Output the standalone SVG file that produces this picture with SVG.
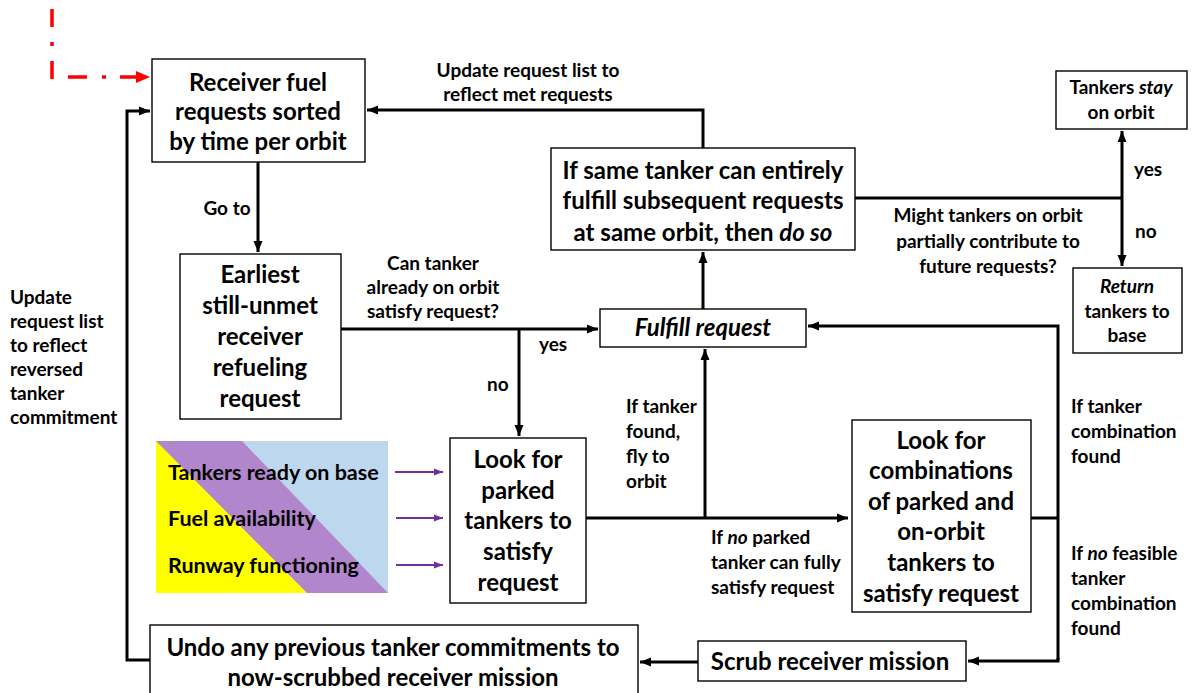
<svg xmlns="http://www.w3.org/2000/svg" width="1195" height="693" viewBox="0 0 1195 693">
  <style>
    .box { fill: #fff; stroke: #000; stroke-width: 1.4; }
    .t { font-family: Lato, "Liberation Sans", sans-serif; font-weight: bold; fill: #000; }
    .big { font-size: 24px; text-anchor: middle; }
    .lbl { font-size: 19px; }
    .mid { text-anchor: middle; }
    .con { fill: none; stroke: #000; stroke-width: 3; }
    .pur { fill: none; stroke: #7030A0; stroke-width: 2; }
  </style>
  <defs>
    <marker id="ah" markerUnits="userSpaceOnUse" markerWidth="12" markerHeight="12" refX="11" refY="6" orient="auto">
      <path d="M0,1.5 L11,6 L0,10.5 Z" fill="#000"/>
    </marker>
    <marker id="ahp" markerUnits="userSpaceOnUse" markerWidth="10" markerHeight="10" refX="9" refY="5" orient="auto">
      <path d="M0,1.5 L9,5 L0,8.5 Z" fill="#7030A0"/>
    </marker>
  </defs>

  <!-- entry path -->
  <g id="entry">
    <path d="M52,9 V79" fill="none" stroke="#FF0000" stroke-width="3.5" stroke-dasharray="18 15 4 15"/>
    <path d="M68,77 H138" fill="none" stroke="#FF0000" stroke-width="3.5" stroke-dasharray="19 15 4 14 18"/>
    <path d="M136,71 L150,77 L136,83 Z" fill="#FF0000"/>
  </g>

  <!-- connectors -->
  <g id="connectors">
    <path class="con" d="M258,162 V252" marker-end="url(#ah)"/>
    <path class="con" d="M341,329 H598" marker-end="url(#ah)"/>
    <path class="con" d="M519,329 V436" marker-end="url(#ah)"/>
    <path class="con" d="M586,518 H848" marker-end="url(#ah)"/>
    <path class="con" d="M705,518 V349" marker-end="url(#ah)"/>
    <path class="con" d="M703,309 V252" marker-end="url(#ah)"/>
    <path class="con" d="M703,148 V110 H367" marker-end="url(#ah)"/>
    <path class="con" d="M855,198 H1122"/>
    <path class="con" d="M1122,198 V131" marker-end="url(#ah)"/>
    <path class="con" d="M1122,198 V266" marker-end="url(#ah)"/>
    <path class="con" d="M1031,518 H1058"/>
    <path class="con" d="M1058,660 V326 H808" marker-end="url(#ah)"/>
    <path class="con" d="M1058,658 V661 H968" marker-end="url(#ah)"/>
    <path class="con" d="M698,662 H640" marker-end="url(#ah)"/>
    <path class="con" d="M150,660 H127 V111 H150" marker-end="url(#ah)"/>
    <path class="pur" d="M395,472 H443" marker-end="url(#ahp)"/>
    <path class="pur" d="M396,518 H443" marker-end="url(#ahp)"/>
    <path class="pur" d="M396,565 H443" marker-end="url(#ahp)"/>
  </g>

  <!-- connector labels -->
  <g id="labels" class="t lbl">
    <text class="mid" x="528" y="77">Update request list to</text>
    <text class="mid" x="528" y="101">reflect met requests</text>
    <text class="mid" x="227" y="215">Go to</text>
    <text class="mid" x="433" y="270">Can tanker</text>
    <text class="mid" x="433" y="294">already on orbit</text>
    <text class="mid" x="433" y="318">satisfy request?</text>
    <text x="539" y="351">yes</text>
    <text x="487" y="391">no</text>
    <text x="10" y="304">Update</text>
    <text x="10" y="328">request list</text>
    <text x="10" y="352">to reflect</text>
    <text x="10" y="376">reversed</text>
    <text x="10" y="400">tanker</text>
    <text x="10" y="424">commitment</text>
    <text x="626" y="413">If tanker</text>
    <text x="626" y="438">found,</text>
    <text x="626" y="463">fly to</text>
    <text x="626" y="488">orbit</text>
    <text x="711" y="544">If <tspan font-style="italic">no</tspan> parked</text>
    <text x="711" y="569">tanker can fully</text>
    <text x="711" y="594">satisfy request</text>
    <text x="1071" y="413">If tanker</text>
    <text x="1071" y="438">combination</text>
    <text x="1071" y="463">found</text>
    <text x="1071" y="560">If <tspan font-style="italic">no</tspan> feasible</text>
    <text x="1071" y="585">tanker</text>
    <text x="1071" y="610">combination</text>
    <text x="1071" y="635">found</text>
    <text class="mid" x="988" y="222">Might tankers on orbit</text>
    <text class="mid" x="988" y="248">partially contribute to</text>
    <text class="mid" x="988" y="273">future requests?</text>
    <text x="1134" y="176">yes</text>
    <text x="1135" y="238">no</text>
  </g>

  <g id="receiver-requests">
    <rect class="box" x="152" y="59" width="213" height="103"/>
    <text class="t big" x="258" y="91">Receiver fuel</text>
    <text class="t big" x="258" y="120">requests sorted</text>
    <text class="t big" x="258" y="150">by time per orbit</text>
  </g>

  <g id="earliest-request">
    <rect class="box" x="180" y="254" width="161" height="165"/>
    <text class="t big" x="260" y="283">Earliest</text>
    <text class="t big" x="260" y="314">still-unmet</text>
    <text class="t big" x="260" y="345">receiver</text>
    <text class="t big" x="260" y="376">refueling</text>
    <text class="t big" x="260" y="407">request</text>
  </g>

  <g id="same-tanker">
    <rect class="box" x="551" y="148" width="304" height="102"/>
    <text class="t big" x="703" y="179">If same tanker can entirely</text>
    <text class="t big" x="703" y="209">fulfill subsequent requests</text>
    <text class="t big" x="703" y="241">at same orbit, then <tspan font-style="italic">do so</tspan></text>
  </g>

  <g id="tankers-stay">
    <rect class="box" x="1056" y="71" width="131" height="58"/>
    <text class="t mid" font-size="19" x="1121" y="94">Tankers <tspan font-style="italic">stay</tspan></text>
    <text class="t mid" font-size="19" x="1121" y="119">on orbit</text>
  </g>

  <g id="return-tankers">
    <rect class="box" x="1073" y="268" width="109" height="85"/>
    <text class="t mid" font-size="19" x="1127" y="293" font-style="italic">Return</text>
    <text class="t mid" font-size="19" x="1127" y="318">tankers to</text>
    <text class="t mid" font-size="19" x="1127" y="342">base</text>
  </g>

  <g id="fulfill-request">
    <rect class="box" x="600" y="309" width="206" height="38"/>
    <text class="t big" x="703" y="336" font-style="italic">Fulfill request</text>
  </g>

  <g id="base-status">
    <rect x="156" y="441" width="232" height="152" fill="#BDD7EE"/>
    <polygon points="156,441 242,441 388,593 307,593 156,593" fill="#B286CC"/>
    <polygon points="156,441 156,593 307,593" fill="#FFFF00"/>
    <text class="t" font-size="21.5" x="168" y="480">Tankers ready on base</text>
    <text class="t" font-size="21.5" x="168" y="526">Fuel availability</text>
    <text class="t" font-size="21.5" x="168" y="573">Runway functioning</text>
  </g>

  <g id="parked-tankers">
    <rect class="box" x="450" y="438" width="136" height="165"/>
    <text class="t big" x="518" y="468">Look for</text>
    <text class="t big" x="518" y="499">parked</text>
    <text class="t big" x="518" y="529">tankers to</text>
    <text class="t big" x="518" y="560">satisfy</text>
    <text class="t big" x="518" y="591">request</text>
  </g>

  <g id="tanker-combinations">
    <rect class="box" x="852" y="420" width="179" height="192"/>
    <text class="t big" x="941" y="449">Look for</text>
    <text class="t big" x="941" y="479">combinations</text>
    <text class="t big" x="941" y="510">of parked and</text>
    <text class="t big" x="941" y="540">on-orbit</text>
    <text class="t big" x="941" y="571">tankers to</text>
    <text class="t big" x="941" y="602">satisfy request</text>
  </g>

  <g id="scrub-mission">
    <rect class="box" x="698" y="641" width="268" height="40"/>
    <text class="t big" x="830" y="670">Scrub receiver mission</text>
  </g>

  <g id="undo-commitments">
    <rect class="box" x="150" y="625" width="488" height="72"/>
    <text class="t big" x="393" y="656">Undo any previous tanker commitments to</text>
    <text class="t big" x="393" y="686">now-scrubbed receiver mission</text>
  </g>
</svg>
